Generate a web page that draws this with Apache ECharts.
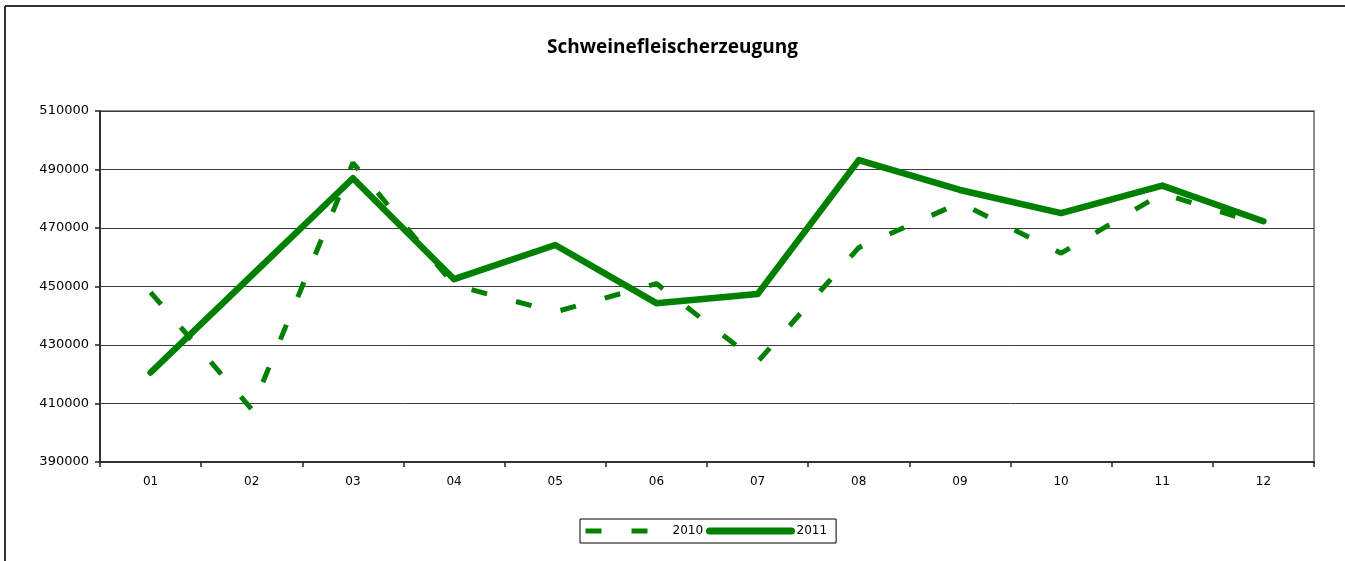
<!DOCTYPE html>
<html>
<head>
<meta charset="utf-8">
<script src="https://cdn.jsdelivr.net/npm/echarts@6/dist/echarts.min.js"></script>
<style>
  html, body { margin: 0; padding: 0; background: #fff; overflow: hidden; }
  #chart { width: 1345px; height: 561px; }
</style>
</head>
<body>
<div id="chart"></div>
<script>
// monthly values
const months = ['01', '02', '03', '04', '05', '06', '07', '08', '09', '10', '11', '12'];
const values2010 = [448000, 408000, 492300, 450500, 441300, 451000, 424200, 463300, 478600, 461400, 481800, 471000];
const values2011 = [420600, 453800, 487000, 452500, 464200, 444300, 447400, 493200, 483000, 475100, 484500, 472300];
const yTicks = { min: 390000, max: 510000, step: 20000 };

const green = '#008000';
const labelFont = '"DejaVu Sans", Verdana, sans-serif';

const chart = echarts.init(document.getElementById('chart'));

const option = {
    animation: false,
    backgroundColor: '#fff',
    title: {
        text: 'Schweinefleischerzeugung',
        left: 'center',
        top: 33,
        textStyle: {
            fontFamily: '"Open Sans", "Noto Sans", sans-serif',
            fontSize: 19,
            fontWeight: 'bold',
            color: '#000'
        }
    },
    grid: {
        left: 100,
        right: 31,
        top: 111,
        bottom: 99,
        show: true,
        borderColor: '#8c8c8c',
        borderWidth: 2,
        backgroundColor: 'transparent'
    },
    legend: {
        left: 580,
        top: 519,
        padding: [6, 9, 6, 3],
        itemGap: 3,
        itemWidth: 82,
        itemHeight: 14,
        borderColor: '#000',
        borderWidth: 1,
        itemStyle: { opacity: 0 },
        textStyle: { fontFamily: labelFont, fontSize: 12, color: '#000' },
        data: [
            { name: '2010', lineStyle: { color: green, width: 5, type: [16, 30] } },
            { name: '2011', lineStyle: { color: green, width: 7, cap: 'round' } }
        ]
    },
    xAxis: {
        type: 'category',
        data: months,
        boundaryGap: true,
        axisLine: { lineStyle: { color: '#333', width: 2 } },
        axisTick: { show: true, length: 5, lineStyle: { color: '#222', width: 1.5 } },
        axisLabel: { margin: 14, fontFamily: labelFont, fontSize: 12, color: '#000' },
        splitLine: { show: false }
    },
    yAxis: {
        type: 'value',
        min: yTicks.min,
        max: yTicks.max,
        interval: yTicks.step,
        axisLine: { show: true, lineStyle: { color: '#333', width: 2 } },
        axisTick: { show: true, length: 5, lineStyle: { color: '#222', width: 1.5 } },
        axisLabel: {
            margin: 11,
            fontFamily: labelFont,
            fontSize: 13,
            color: '#000',
            formatter: v => String(v)
        },
        splitLine: { show: true, lineStyle: { color: '#3a3a3a', width: 1 } }
    },
    series: [
        {
            name: '2010',
            type: 'line',
            data: values2010,
            symbol: 'none',
            lineStyle: { color: green, width: 5, type: [16, 30], cap: 'butt' },
            itemStyle: { color: green },
            z: 2
        },
        {
            name: '2011',
            type: 'line',
            data: values2011,
            symbol: 'none',
            lineStyle: { color: green, width: 6.5, cap: 'round', join: 'round' },
            itemStyle: { color: green },
            z: 3
        }
    ],
    graphic: [
        // outer frame of the chart (only top and left are in the picture)
        { type: 'line', shape: { x1: 5, y1: 6, x2: 1360, y2: 6 }, style: { stroke: '#333', lineWidth: 2 } },
        { type: 'line', shape: { x1: 5, y1: 6, x2: 5, y2: 570 }, style: { stroke: '#333', lineWidth: 2 } }
    ]
};

chart.setOption(option);
</script>
</body>
</html>
